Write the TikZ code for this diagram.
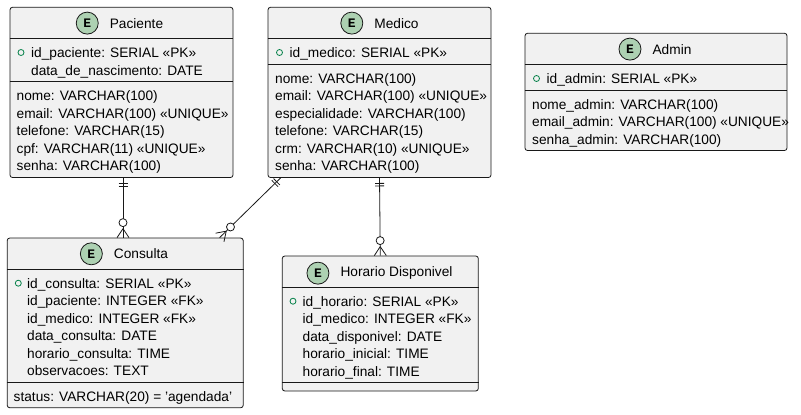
\documentclass[tikz,border=0pt]{standalone}
\usepackage{fontspec}
\setmainfont{Liberation Sans}
\setmonofont{Liberation Mono}
\usetikzlibrary{positioning,calc,decorations.markings}
\definecolor{entfill}{HTML}{F1F1F1}
\definecolor{entline}{HTML}{181818}
\definecolor{iconfill}{HTML}{ADD1B2}
\definecolor{pkgreen}{HTML}{038048}

\begin{document}
\begin{tikzpicture}[
    x=1pt, y=-1pt,
    ent/.style={draw=entline, fill=entfill, rounded corners=2.5pt, line width=0.8pt, inner sep=0pt},
    sep/.style={draw=entline, line width=0.8pt},
    title/.style={font=\fontsize{13.7}{17.5}\selectfont, inner sep=0pt, anchor=base},
    icon/.style={circle, draw=entline, line width=0.8pt, fill=iconfill, minimum size=22pt, inner sep=0pt, font=\ttfamily\bfseries\fontsize{13}{13}\selectfont},
    rows/.style={font=\fontsize{13.7}{17.5}\selectfont, align=left, inner sep=0pt, anchor=base west},
    pk/.style={circle, draw=pkgreen, line width=0.8pt, minimum size=6pt, inner sep=0pt},
    rel/.style={draw=entline, line width=0.8pt},
    one/.style={postaction={decorate, decoration={markings,
        mark=at position 5.5pt with {\draw[rel] (0,-4.5pt) -- (0,4.5pt);},
        mark=at position 8pt with {\draw[rel] (0,-4.5pt) -- (0,4.5pt);}}}},
    many/.style={postaction={decorate, decoration={markings,
        mark=at position -15pt with {\draw[rel, fill=white] (0,0) circle (4pt);},
        mark=at position -9pt with {\draw[rel] (0,0) -- (9pt,6pt) (0,0) -- (9pt,-6pt);}}}}
  ]
    \useasboundingbox (0,0) rectangle (801,415);

    % Paciente
    \node[ent, minimum width=223pt, minimum height=170.2pt] (pac) at (121.5,92.4) {};
    \node[title] (pact) at (136.5,28) {Paciente};
    \node[icon, left=11pt of pact] (paci) {E};
    \draw[sep] (pac.west |- 0,38.5) -- (pac.east |- 0,38.5);
    \draw[sep] (pac.west |- 0,81.5) -- (pac.east |- 0,81.5);
    \node[pk] (pacpk) at (21,52.5) {};
    % base anchor = last line
    \node[rows] (pacid) at (31,75) {id\_paciente: SERIAL «PK»\\data\_de\_nascimento: DATE};
    \node[rows] (pacat) at (16.5,170.5) {nome: VARCHAR(100)\\email: VARCHAR(100) «UNIQUE»\\telefone: VARCHAR(15)\\cpf: VARCHAR(11) «UNIQUE»\\senha: VARCHAR(100)};

    % Medico
    \node[ent, minimum width=223pt, minimum height=170.2pt] (med) at (379.5,92.4) {};
    \node[title] (medt) at (396.5,28) {Medico};
    \node[icon, left=11pt of medt] (medi) {E};
    \draw[sep] (med.west |- 0,38.5) -- (med.east |- 0,38.5);
    \draw[sep] (med.west |- 0,64) -- (med.east |- 0,64);
    \node[pk] (medpk) at (279.5,52.5) {};
    \node[rows] (medid) at (289.5,57.5) {id\_medico: SERIAL «PK»};
    \node[rows] (medat) at (275,170.5) {nome: VARCHAR(100)\\email: VARCHAR(100) «UNIQUE»\\especialidade: VARCHAR(100)\\telefone: VARCHAR(15)\\crm: VARCHAR(10) «UNIQUE»\\senha: VARCHAR(100)};

    % Admin
    \node[ent, minimum width=262pt, minimum height=117.2pt] (adm) at (656,91.9) {};
    \node[title] (admt) at (672,54) {Admin};
    \node[icon, left=11pt of admt] (admi) {E};
    \draw[sep] (adm.west |- 0,64.5) -- (adm.east |- 0,64.5);
    \draw[sep] (adm.west |- 0,90) -- (adm.east |- 0,90);
    \node[pk] (admpk) at (536.5,78.5) {};
    \node[rows] (admid) at (546.5,83.5) {id\_admin: SERIAL «PK»};
    \node[rows] (admat) at (532,144) {nome\_admin: VARCHAR(100)\\email\_admin: VARCHAR(100) «UNIQUE»\\senha\_admin: VARCHAR(100)};

    % Consulta
    \node[ent, minimum width=236pt, minimum height=169.7pt] (cons) at (125.2,322.9) {};
    \node[title] (const) at (141,258.7) {Consulta};
    \node[icon, left=11pt of const] (consi) {E};
    \draw[sep] (cons.west |- 0,269.2) -- (cons.east |- 0,269.2);
    \draw[sep] (cons.west |- 0,382.2) -- (cons.east |- 0,382.2);
    \node[pk] (conspk) at (18.3,283.2) {};
    \node[rows] (consid) at (27,375.7) {id\_consulta: SERIAL «PK»\\id\_paciente: INTEGER «FK»\\id\_medico: INTEGER «FK»\\data\_consulta: DATE\\horario\_consulta: TIME\\observacoes: TEXT};
    \node[rows] (consat) at (13.5,401.2) {status: VARCHAR(20) = 'agendada'};

    % Horario Disponivel
    \node[ent, minimum width=196pt, minimum height=135pt] (hor) at (380.3,323.5) {};
    \node[title] (hort) at (396.5,276.7) {Horario Disponivel};
    \node[icon, left=11pt of hort] (hori) {E};
    \draw[sep] (hor.west |- 0,287.2) -- (hor.east |- 0,287.2);
    \draw[sep] (hor.west |- 0,382.7) -- (hor.east |- 0,382.7);
    \node[pk] (horpk) at (293,301.2) {};
    \node[rows] (horid) at (302.5,376.2) {id\_horario: SERIAL «PK»\\id\_medico: INTEGER «FK»\\data\_disponivel: DATE\\horario\_inicial: TIME\\horario\_final: TIME};

    % relations
    \coordinate (pacdown) at ([xshift=1.5pt]pac.south);
    \draw[rel, one, many] (pacdown) -- (pacdown |- cons.north);
    \draw[rel, one, many] ([xshift=13pt]med.south west) -- ([xshift=-24pt]cons.north east);
    \draw[rel, one, many] (med.south) -- (hor.north);
  \end{tikzpicture}
\end{document}
